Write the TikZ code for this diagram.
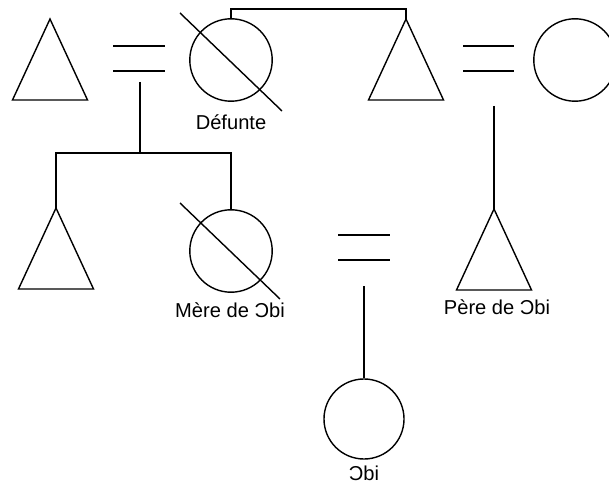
\documentclass[tikz,border=0pt]{standalone}
\usepackage{fontspec}
\setmainfont{Liberation Sans}
\usepackage{tikz}
\usetikzlibrary{positioning}

\tikzset{
	person/.style={circle, draw, line width=1pt, minimum size=2.06cm, inner sep=0pt},
	male/.pic={
		\coordinate (-top) at (0,0);
		\draw[line width=1pt] (0,0) -- (-37.5,81) -- (37.5,81) -- cycle;
	},
	link/.style={line width=1pt},
	lbl/.style={font=\fontsize{14.3}{16}\selectfont, inner sep=0pt}
}

\begin{document}
\begin{tikzpicture}[
		x=0.025cm, y=-0.025cm,
		line cap=butt,
		line join=miter
		]
		\useasboundingbox (0,0) rectangle (609,484);
		
		% =========================
		% Marriage sign: two strokes
		% =========================
		\def\marriage#1#2#3{%
			\draw[link] (#1,#3) -- (#2,#3);
			\draw[link] (#1,#3+25) -- (#2,#3+25);
		}
		
		% --------------------------------
		% First generation
		% --------------------------------
		\pic (grandpere) at (50,19) {male};
		\node[person] (defunte) at (231,60) {};
		\draw[link] (defunte.center) ++(-51,-47) -- ++(102,98);
		\node[lbl] (defunteLbl) at (231,122) {Défunte};
		\marriage{113}{165}{46}
		\coordinate (m1) at (140,82);
		
		\pic (frere) at (406,19) {male};
		\marriage{463}{514}{46}
		\node[person] (epouse) at (575,60) {};
		\coordinate (m2) at (494,106);
		
		% sibling bar between Défunte and her brother
		\draw[link] (defunte.north) |- (406,9) -- (frere-top);
		
		% --------------------------------
		% Second generation
		% --------------------------------
		\pic (oncle) at (56,208) {male};
		\node[person] (mere) at (231,251) {};
		\draw[link] (mere.center) ++(-51,-48) -- ++(100,96);
		\node[lbl] (mereLbl) at (230,310) {Mère de Ɔbi};
		
		\draw[link] (m1) -- (140,153);
		\draw[link] (oncle-top) |- (140,153) -| (mere.north);
		
		\pic (pere) at (494,209) {male};
		\node[lbl] (pereLbl) at (497,307) {Père de Ɔbi};
		\draw[link] (m2) -- (pere-top);
		
		\marriage{338}{390}{235}
		\coordinate (m3) at (364,286);
		
		% --------------------------------
		% Ego
		% --------------------------------
		\node[person, minimum size=2.0cm] (obi) at (364,419) {};
		\node[lbl] (obiLbl) at (364,473) {Ɔbi};
		\draw[link] (m3) -- (obi.north);
		
	\end{tikzpicture}
\end{document}
